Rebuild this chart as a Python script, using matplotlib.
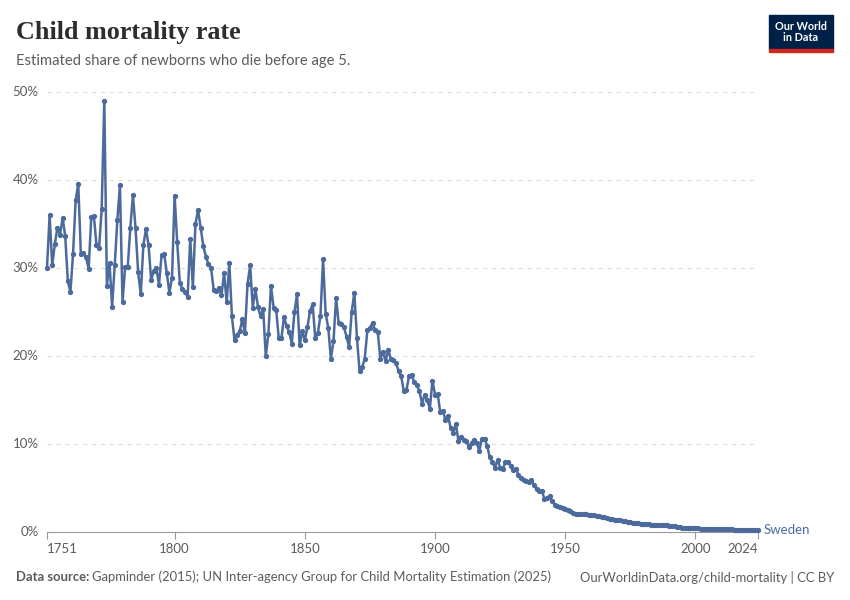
import matplotlib
matplotlib.use("Agg")
import matplotlib.pyplot as plt
from matplotlib.patches import Rectangle

# Child mortality, Sweden (share of newborns dying before age 5, %)
years = list(range(1751, 2025))

rate_1751_1806 = [
    30.0, 36.0, 30.3, 32.7, 34.6, 33.8, 35.7, 33.6, 28.5, 27.3,
    31.6, 37.7, 39.6, 31.6, 31.7, 31.2, 29.9, 35.8, 35.9, 32.6,
    32.3, 36.7, 49.0, 28.0, 30.6, 25.6, 30.3, 35.4, 39.4, 26.1,
    30.1, 30.1, 34.6, 38.3, 34.5, 29.5, 27.0, 32.6, 34.4, 32.6,
    28.6, 29.7, 30.0, 28.1, 31.5, 31.6, 29.4, 27.2, 28.9, 38.2,
    32.9, 28.3, 27.6, 27.3, 26.7, 33.3,
]
rate_1807_1852 = [
    27.8, 35.0, 36.6, 34.6, 32.5, 31.3, 30.4, 30.0, 27.5, 27.4,
    27.7, 26.9, 29.4, 26.1, 30.6, 24.5, 21.8, 22.4, 22.8, 24.2,
    22.6, 28.2, 30.3, 25.5, 27.6, 25.6, 24.5, 25.3, 20.0, 22.5,
    28.0, 25.5, 25.2, 22.0, 22.0, 24.4, 23.4, 22.7, 21.4, 25.0,
    27.0, 21.2, 22.8, 21.8, 23.3, 25.1,
]
rate_1853_1893 = [
    25.9, 22.0, 22.6, 24.6, 31.0, 24.8, 23.2, 19.7, 21.7, 26.6,
    23.7, 23.6, 23.3, 22.2, 21.0, 25.0, 27.2, 22.1, 18.3, 18.7,
    19.7, 22.9, 23.2, 23.8, 22.9, 22.7, 19.7, 20.5, 19.4, 20.7,
    19.7, 19.5, 19.2, 18.3, 17.7, 16.0, 16.1, 17.7, 17.8, 17.0,
    16.7,
]
rate_1894_1954 = [
    16.0, 14.6, 15.6, 15.0, 14.0, 17.2, 15.6, 15.7, 13.6, 13.8,
    12.7, 13.2, 11.8, 11.3, 12.3, 10.3, 10.8, 10.45, 10.3, 9.7,
    10.15, 10.5, 10.15, 9.2, 10.6, 10.6, 9.8, 8.5, 8.0, 7.3,
    8.2, 7.3, 7.2, 7.9, 7.9, 7.5, 7.0, 7.2, 6.5, 6.1,
    5.9, 5.8, 5.7, 5.9, 5.3, 4.85, 4.7, 4.65, 3.8, 3.9,
    4.1, 3.5, 3.1, 2.95, 2.8, 2.75, 2.6, 2.5, 2.35, 2.2,
    2.1,
]
rate_1955_2024 = [
    2.08, 2.05, 2.02, 2.0, 1.97, 1.94, 1.9, 1.85, 1.79, 1.72,
    1.65, 1.58, 1.52, 1.47, 1.42, 1.37, 1.32, 1.27, 1.22, 1.17,
    1.12, 1.07, 1.02, 0.98, 0.95, 0.92, 0.89, 0.86, 0.84, 0.82,
    0.80, 0.79, 0.78, 0.77, 0.75, 0.72, 0.68, 0.63, 0.58, 0.53,
    0.49, 0.46, 0.44, 0.43, 0.42, 0.41, 0.40, 0.39, 0.38, 0.37,
    0.36, 0.35, 0.34, 0.33, 0.32, 0.31, 0.30, 0.30, 0.29, 0.29,
    0.28, 0.28, 0.27, 0.27, 0.26, 0.26, 0.25, 0.25, 0.24, 0.24,
]
rate = rate_1751_1806 + rate_1807_1852 + rate_1853_1893 + rate_1894_1954 + rate_1955_2024

x_ticks = [1751, 1800, 1850, 1900, 1950, 2000, 2024]
y_ticks = [0, 10, 20, 30, 40, 50]
y_labels = ["0%", "10%", "20%", "30%", "40%", "50%"]

blue = "#4c6a9c"
grey = "#5b5b5b"
plt.rcParams["font.family"] = ["Lato", "DejaVu Sans"]

fig = plt.figure(figsize=(8.5, 6), dpi=100)
ax = fig.add_axes([47 / 850, 1 - 532 / 600, (758 - 47) / 850, (532 - 92) / 600])

ax.plot(years, rate, color=blue, lw=1.8, marker="o", ms=2.8, clip_on=False, zorder=3)

ax.set_xlim(1751, 2024)
ax.set_ylim(0, 50)

ax.set_yticks(y_ticks)
ax.set_yticklabels(y_labels)
ax.set_xticks(x_ticks)
ax.set_xticklabels([str(t) for t in x_ticks])
for lab in ax.get_xticklabels():
    if lab.get_text() == "1751":
        lab.set_horizontalalignment("left")
    elif lab.get_text() == "2024":
        lab.set_horizontalalignment("right")

ax.tick_params(axis="y", length=0, pad=6, labelsize=9.5, labelcolor=grey)
ax.tick_params(axis="x", length=5, width=0.8, color="#999999", pad=3,
               labelsize=9.5, labelcolor=grey)
for lab in ax.get_yticklabels():
    lab.set_verticalalignment("center")

for y in y_ticks[1:]:
    ax.axhline(y, color="#dddddd", lw=0.8, ls=(0, (4, 4)), zorder=1)

for side in ["top", "right", "left"]:
    ax.spines[side].set_visible(False)
ax.spines["bottom"].set_color("#999999")
ax.spines["bottom"].set_linewidth(0.8)

ax.text(2024 + 2, rate[-1], "Sweden", color=blue, fontsize=9.5, va="center", ha="left")

# Title and subtitle
fig.text(16 / 850, 1 - 32 / 600, "Child mortality rate", family=["Liberation Serif"],
         fontsize=18.8, fontweight="bold", color="#2d2d2d", va="center")
fig.text(16 / 850, 1 - 61 / 600, "Estimated share of newborns who die before age 5.",
         fontsize=10.6, color=grey, va="center")

# Logo
fig.patches.append(Rectangle((769 / 850, 1 - 49 / 600), 64 / 850, 34 / 600,
                             transform=fig.transFigure, color="#002147"))
fig.patches.append(Rectangle((769 / 850, 1 - 52 / 600), 64 / 850, 3 / 600,
                             transform=fig.transFigure, color="#ce261e"))
fig.text(801 / 850, 1 - 32 / 600, "Our World\nin Data", color="white", fontsize=7.8,
         fontweight="bold", ha="center", va="center", linespacing=1.0)

# Footer
t = fig.text(16 / 850, 1 - 577 / 600, "Data source:", fontsize=9.4, fontweight="bold",
             color=grey, va="center")
fig.canvas.draw()
bb = t.get_window_extent()
fig.text(bb.x1 / 850 + 3 / 850, 1 - 577 / 600,
         "Gapminder (2015); UN Inter-agency Group for Child Mortality Estimation (2025)",
         fontsize=9.4, color=grey, va="center")
fig.text(834 / 850, 1 - 577 / 600, "OurWorldinData.org/child-mortality | CC BY",
         fontsize=9.4, color=grey, va="center", ha="right")

fig.savefig("out.png", dpi=100)
